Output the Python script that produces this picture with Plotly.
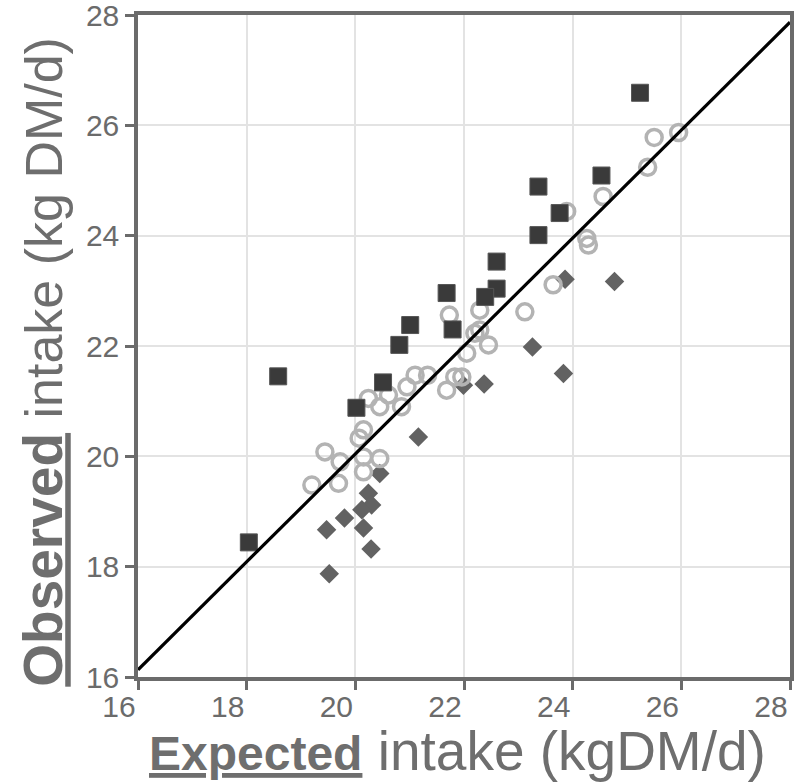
import plotly.graph_objects as go

# Dark squares
sq_x = [25.24, 24.53, 23.37, 23.76, 23.37, 22.60, 22.60, 22.39, 21.68, 21.01, 21.79, 20.81, 18.58, 20.51, 20.02, 18.04]
sq_y = [26.59, 25.09, 24.89, 24.41, 24.01, 23.53, 23.04, 22.89, 22.96, 22.38, 22.30, 22.02, 21.45, 21.34, 20.88, 18.44]

# Open grey circles
ci_x = [25.95, 25.50, 25.38, 24.56, 23.89, 24.26, 24.29, 23.64, 23.12, 21.73, 22.29, 22.29, 22.45, 22.05,
        21.10, 21.33, 21.83, 21.96, 21.68, 20.95, 20.61, 20.24, 20.45, 20.85, 20.15, 20.07, 19.44, 19.72,
        20.15, 20.45, 20.15, 19.20, 19.69, 22.20]
ci_y = [25.87, 25.78, 25.24, 24.71, 24.44, 23.95, 23.83, 23.11, 22.62, 22.56, 22.65, 22.29, 22.02, 21.87,
        21.47, 21.47, 21.44, 21.44, 21.20, 21.26, 21.11, 21.05, 20.90, 20.90, 20.48, 20.33, 20.08, 19.90,
        19.99, 19.96, 19.72, 19.48, 19.51, 22.23]

# Grey diamonds
di_x = [23.86, 24.77, 23.26, 23.83, 22.37, 21.99, 21.16, 20.45, 20.24, 20.30, 20.12, 19.80, 19.47, 20.15, 20.29, 19.52]
di_y = [23.21, 23.17, 21.98, 21.50, 21.31, 21.29, 20.35, 19.69, 19.33, 19.12, 19.03, 18.88, 18.67, 18.70, 18.32, 17.87]

# Fitted line end points
line_x = [16, 28]
line_y = [16.13, 27.87]

tick_vals = [16, 18, 20, 22, 24, 26, 28]
tick_text = ["16", "18", "20", "22", "24", "26", "28"]

grey = "#6b6b6b"
title_grey = "#6e6e6e"
font_fam = "Liberation Sans, Arial"

fig = go.Figure()
fig.add_trace(go.Scatter(x=di_x, y=di_y, mode="markers",
                         marker=dict(symbol="diamond", size=15, color="#626262", line=dict(width=0))))
fig.add_trace(go.Scatter(x=ci_x, y=ci_y, mode="markers",
                         marker=dict(symbol="circle-open", size=16, color="#b3b3b3", line=dict(width=3.5, color="#b3b3b3"))))
fig.add_trace(go.Scatter(x=sq_x, y=sq_y, mode="markers",
                         marker=dict(symbol="square", size=17, color="#3a3a3a", line=dict(width=1, color="#555555"))))
fig.add_trace(go.Scatter(x=line_x, y=line_y, mode="lines", line=dict(color="black", width=3.2)))

axis_common = dict(
    range=[16, 28], tickvals=tick_vals, ticktext=tick_text,
    showgrid=True, gridcolor="#e3e3e3", gridwidth=1.5,
    showline=True, linecolor=grey, linewidth=3.5, mirror=True,
    ticks="outside", ticklen=9, tickwidth=3, tickcolor=grey,
    tickfont=dict(family=font_fam, size=30, color=grey),
    ticklabeloverflow="allow", automargin=False,
    zeroline=False,
)

fig.update_layout(
    width=802, height=782,
    margin=dict(l=138, r=12, t=15, b=105),
    paper_bgcolor="white", plot_bgcolor="white",
    showlegend=False,
    xaxis=dict(**axis_common, ticklabelshift=-19, ticklabelstandoff=-9),
    yaxis=dict(**axis_common),
)

fig.add_annotation(
    text="<u><b>Expected</b></u><span style='font-size:55px'> intake (kgDM/d)</span>",
    xref="paper", yref="paper", x=0.49, y=-0.112, xanchor="center", yanchor="middle",
    showarrow=False, font=dict(family=font_fam, size=48, color=title_grey),
)
fig.add_annotation(
    text="<u><b>Observed</b></u><span style='font-size:52px'> intake (kg DM/d)</span>",
    xref="paper", yref="paper", x=-0.145, y=0.477, xanchor="center", yanchor="middle",
    textangle=-90, showarrow=False, font=dict(family=font_fam, size=55, color=title_grey),
)

fig.write_html("out.html")
